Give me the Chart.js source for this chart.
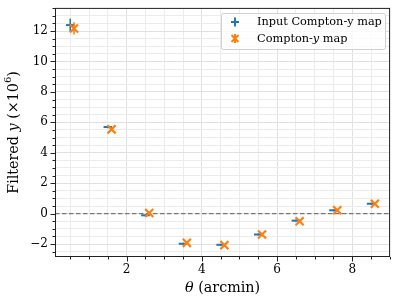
<!DOCTYPE html>
<html>
<head>
<meta charset="utf-8">
<script src="https://cdn.jsdelivr.net/npm/chart.js@4"></script>
<style>
html, body { margin: 0; padding: 0; background: #fff; }
#wrap { width: 398px; height: 304px; }
</style>
</head>
<body>
<div id="wrap"><canvas id="filterChart"></canvas></div>
<script>
// values
const thetaInput = [0.5, 1.5, 2.5, 3.5, 4.5, 5.5, 6.5, 7.5, 8.5];
const yInput     = [12.39, 5.69, -0.11, -1.98, -2.05, -1.37, -0.46, 0.22, 0.65];
const errInput   = [0.42, 0.08, 0.06, 0.06, 0.06, 0.06, 0.06, 0.06, 0.06];

const thetaMap = [0.6, 1.6, 2.6, 3.6, 4.6, 5.6, 6.6, 7.6, 8.6];
const yMap     = [12.17, 5.54, 0.04, -1.92, -2.07, -1.37, -0.50, 0.22, 0.65];
const errMap   = [0.40, 0.10, 0.08, 0.08, 0.06, 0.06, 0.06, 0.06, 0.06];

const xTickLabels = [2, 4, 6, 8];
const yTickLabels = [-2, 0, 2, 4, 6, 8, 10, 12];
const minorStep = 0.5;
const xRange = [0.095, 9.005];
const yRange = [-2.85, 13.52];

const serif = "'DejaVu Serif', serif";
const blue = '#1f77b4';
const orange = '#ff7f0e';

function gridValues(lo, hi) {
    var out = [];
    for (var v = Math.ceil(lo / minorStep) * minorStep; v <= hi + 1e-9; v += minorStep) {
        out.push(Math.round(v * 100) / 100);
    }
    return out;
}

// text made of pieces with different styles: [text, style, size, dy]
function drawRuns(ctx, runs, x, y) {
    var total = 0;
    runs.forEach(r => { ctx.font = r[1] + ' ' + r[2] + 'px ' + serif; total += ctx.measureText(r[0]).width; });
    var cx = x - total / 2;
    runs.forEach(r => {
        ctx.font = r[1] + ' ' + r[2] + 'px ' + serif;
        ctx.fillText(r[0], cx, y + (r[3] || 0));
        cx += ctx.measureText(r[0]).width;
    });
}

const errorBars = {
    id: 'errorBars',
    beforeDatasetDraw(chart, args) {
        const ds = chart.data.datasets[args.index];
        if (!ds.yErr) return;
        const ctx = chart.ctx, xs = chart.scales.x, ys = chart.scales.y;
        ctx.save();
        ctx.strokeStyle = ds.borderColor;
        ctx.lineWidth = 1.6;
        ds.data.forEach((p, i) => {
            const px = xs.getPixelForValue(p.x);
            ctx.beginPath();
            ctx.moveTo(px, ys.getPixelForValue(p.y - ds.yErr[i]));
            ctx.lineTo(px, ys.getPixelForValue(p.y + ds.yErr[i]));
            ctx.stroke();
        });
        ctx.restore();
    }
};

const decorations = {
    id: 'decorations',
    afterDraw(chart) {
        const ctx = chart.ctx, a = chart.chartArea;
        const xs = chart.scales.x, ys = chart.scales.y;
        ctx.save();
        // frame
        ctx.strokeStyle = '#222';
        ctx.lineWidth = 1;
        ctx.strokeRect(a.left + 0.5, a.top + 0.5, a.right - a.left - 1, a.bottom - a.top - 1);
        // tick marks (outside, left and bottom)
        ctx.beginPath();
        gridValues(xRange[0], xRange[1]).forEach(v => {
            const px = Math.round(xs.getPixelForValue(v)) + 0.5;
            const len = xTickLabels.includes(v) ? 4.5 : 2.5;
            ctx.moveTo(px, a.bottom); ctx.lineTo(px, a.bottom + len);
        });
        gridValues(yRange[0], yRange[1]).forEach(v => {
            const py = Math.round(ys.getPixelForValue(v)) + 0.5;
            const len = yTickLabels.includes(v) ? 4.5 : 2.5;
            ctx.moveTo(a.left, py); ctx.lineTo(a.left - len, py);
        });
        ctx.stroke();

        // axis titles
        ctx.fillStyle = '#000';
        ctx.textBaseline = 'middle';
        drawRuns(ctx, [['θ', 'italic', 14.3], [' (arcmin)', 'normal', 14.3]], (a.left + a.right) / 2, 288);
        ctx.save();
        ctx.translate(14, (a.top + a.bottom) / 2);
        ctx.rotate(-Math.PI / 2);
        drawRuns(ctx, [['Filtered ', 'normal', 14.3], ['y', 'italic', 14.3], [' (×10', 'normal', 14.3], ['6', 'normal', 10, -5.5], [')', 'normal', 14.3]], 0, 0);
        ctx.restore();

        // legend
        const lx = 221, ly = 13, lw = 164, lh = 36;
        ctx.fillStyle = 'rgba(255,255,255,0.8)';
        ctx.strokeStyle = '#d0d0d0';
        ctx.lineWidth = 1;
        ctx.beginPath();
        ctx.roundRect(lx + 0.5, ly + 0.5, lw, lh, 2);
        ctx.fill(); ctx.stroke();

        ctx.lineWidth = 2;
        // input entry: horizontal marker + vertical bar
        ctx.strokeStyle = blue;
        ctx.beginPath();
        ctx.moveTo(231, 22); ctx.lineTo(239, 22);
        ctx.moveTo(235, 17.5); ctx.lineTo(235, 26.5);
        ctx.stroke();
        // map entry: x marker + vertical bar
        ctx.strokeStyle = orange;
        ctx.beginPath();
        ctx.moveTo(231.5, 35); ctx.lineTo(238.5, 42);
        ctx.moveTo(238.5, 35); ctx.lineTo(231.5, 42);
        ctx.moveTo(235, 34); ctx.lineTo(235, 43);
        ctx.stroke();

        ctx.fillStyle = '#000';
        ctx.textAlign = 'left';
        ctx.font = '11.3px ' + serif;
        ctx.fillText('Input Compton-y map', 257, 22.5);
        var tx = 257;
        ctx.fillText('Compton-', tx, 39); tx += ctx.measureText('Compton-').width;
        ctx.font = 'italic 11.3px ' + serif;
        ctx.fillText('y', tx, 39); tx += ctx.measureText('y').width;
        ctx.font = '11.3px ' + serif;
        ctx.fillText(' map', tx, 39);
        ctx.restore();
    }
};

const fmt = v => (v < 0 ? '\u2212' + Math.abs(v) : '' + v);

new Chart(document.getElementById('filterChart'), {
    type: 'scatter',
    data: {
        datasets: [{
            type: 'line',
            data: [{ x: xRange[0], y: 0 }, { x: xRange[1], y: 0 }],
            borderColor: '#777',
            borderWidth: 1.2,
            borderDash: [4.5, 2.5],
            pointRadius: 0,
            order: 3
        }, {
            label: 'Input Compton-y map',
            data: thetaInput.map((t, i) => ({ x: t, y: yInput[i] })),
            yErr: errInput,
            pointStyle: 'line',
            pointRadius: 4.3,
            borderColor: blue,
            backgroundColor: blue,
            pointBorderWidth: 2,
            order: 2
        }, {
            label: 'Compton-y map',
            data: thetaMap.map((t, i) => ({ x: t, y: yMap[i] })),
            yErr: errMap,
            pointStyle: 'crossRot',
            pointRadius: 5.7,
            borderColor: orange,
            backgroundColor: orange,
            pointBorderWidth: 2.2,
            order: 1
        }]
    },
    options: {
        responsive: true,
        maintainAspectRatio: false,
        animation: false,
        layout: { padding: { top: 6, right: 7, left: 0, bottom: 0 } },
        plugins: {
            legend: { display: false },
            tooltip: { enabled: false }
        },
        scales: {
            x: {
                type: 'linear',
                min: xRange[0],
                max: xRange[1],
                afterFit: s => { s.height = 47; s.paddingLeft = 0; s.paddingRight = 0; },
                afterBuildTicks: s => { s.ticks = gridValues(xRange[0], xRange[1]).map(v => ({ value: v })); },
                border: { display: false },
                grid: {
                    drawTicks: false,
                    color: c => (c.tick && xTickLabels.includes(c.tick.value) ? '#e0e0e0' : '#ececec'),
                    lineWidth: 1
                },
                ticks: {
                    autoSkip: false,
                    maxRotation: 0,
                    padding: 6,
                    color: '#000',
                    font: { family: serif, size: 12 },
                    callback: v => (xTickLabels.includes(v) ? fmt(v) : '')
                }
            },
            y: {
                type: 'linear',
                min: yRange[0],
                max: yRange[1],
                afterFit: s => { s.width = 55; s.paddingTop = 0; s.paddingBottom = 0; },
                afterBuildTicks: s => { s.ticks = gridValues(yRange[0], yRange[1]).map(v => ({ value: v })); },
                border: { display: false },
                grid: {
                    drawTicks: false,
                    color: c => (c.tick && yTickLabels.includes(c.tick.value) ? '#e0e0e0' : '#ececec'),
                    lineWidth: 1
                },
                ticks: {
                    autoSkip: false,
                    padding: 7,
                    color: '#000',
                    font: { family: serif, size: 12 },
                    callback: v => (yTickLabels.includes(v) ? fmt(v) : '')
                }
            }
        }
    },
    plugins: [errorBars, decorations]
});
</script>
</body>
</html>
